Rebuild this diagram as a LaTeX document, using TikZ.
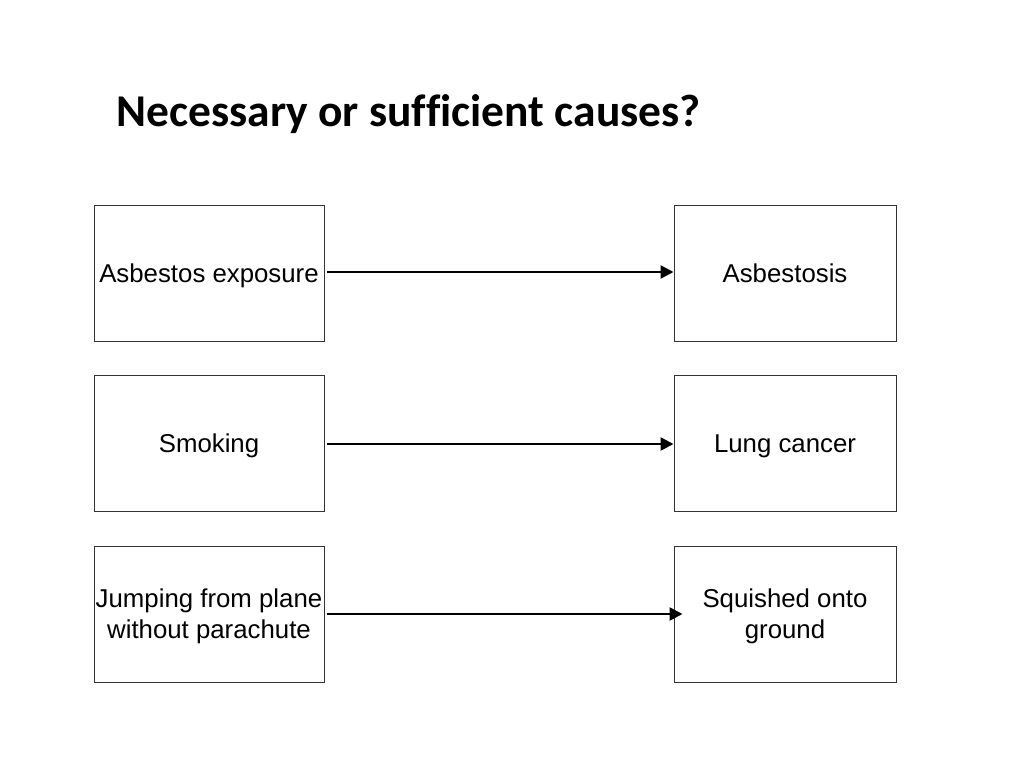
\documentclass[tikz,border=0pt]{standalone}
\usepackage{fontspec}
\setmainfont{Liberation Sans}
\newfontfamily\titlefont[Ligatures=NoCommon]{Carlito}
\usetikzlibrary{arrows.meta}
\begin{document}
\begin{tikzpicture}[x=1pt,y=-1pt,
  box/.style={draw=black!80,line width=1pt,minimum width=230pt,minimum height=136pt,inner sep=0pt,align=center,font=\fontsize{25.8}{31}\selectfont},
  rbox/.style={box,minimum width=222pt},
  oneline/.style={text height=18.5pt,text depth=0pt},
  twoline/.style={text depth=0pt},
  conn/.style={line width=2.6pt,-{Triangle[length=13pt,width=13pt]}}]
\useasboundingbox (0,0) rectangle (1024,768);
\node[anchor=base west,font=\titlefont\bfseries\fontsize{45.5}{54}\selectfont] (title) at (113,126) {Necessary or sufficient causes?};
\node[box,oneline] (a1) at (209,273) {Asbestos exposure};
\node[box,oneline] (a2) at (209,443) {Smoking};
\node[box,twoline] (a3) at (209,614) {Jumping from plane\\without parachute};
\node[rbox,oneline] (b1) at (785,273) {Asbestosis};
\node[rbox,oneline] (b2) at (785,443) {Lung cancer};
\node[rbox,twoline] (b3) at (785,614) {Squished onto\\ground};
\draw[conn] ([xshift=2pt]a1.east |- 0,272) -- (b1.west |- 0,272);
\draw[conn] ([xshift=2pt]a2.east |- 0,444) -- (b2.west |- 0,444);
\coordinate (t3) at ([xshift=9pt]b3.west |- 0,614);
\draw[conn] ([xshift=2pt]a3.east |- 0,614) -- (t3);
\end{tikzpicture}
\end{document}
